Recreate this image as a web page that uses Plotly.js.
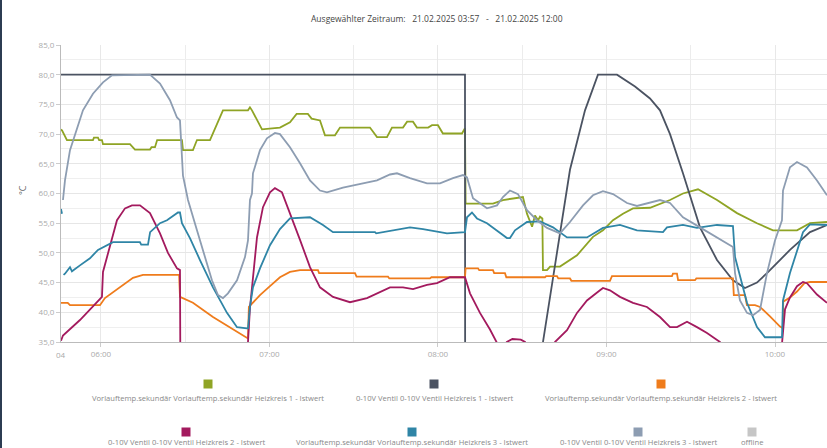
<!DOCTYPE html>
<html>
<head>
<meta charset="utf-8">
<script src="https://cdn.plot.ly/plotly-3.0.1.min.js"></script>
<style>
  html, body { margin: 0; padding: 0; background: #ffffff; overflow: hidden; }
  #chart { width: 827px; height: 448px; }
  #edge { position: absolute; left: 0; top: 0; width: 2px; height: 448px; background: #2c3c52; z-index: 10; }
</style>
</head>
<body>
<div id="edge"></div>
<div id="chart"></div>
<script>
// ---------- DATA ----------
const DAY = '2025-02-21 ';
const xRange = ['05:45:46', '10:18:31'];
const hourTicks = ['06:00', '07:00', '08:00', '09:00', '10:00'];
const hourLabels = ['06:00', '07:00', '08:00', '09:00', '10:00'];
const firstTickLabel = '04';
const yTicks = [35, 40, 45, 50, 55, 60, 65, 70, 75, 80, 85];

const seriesNames = [
  'Vorlauftemp.sekundär Vorlauftemp.sekundär Heizkreis 1 - Istwert',
  '0-10V Ventil 0-10V Ventil Heizkreis 1 - Istwert',
  'Vorlauftemp.sekundär Vorlauftemp.sekundär Heizkreis 2 - Istwert',
  '0-10V Ventil 0-10V Ventil Heizkreis 2 - Istwert',
  'Vorlauftemp.sekundär Vorlauftemp.sekundär Heizkreis 3 - Istwert',
  '0-10V Ventil 0-10V Ventil Heizkreis 3 - Istwert',
  'offline'
];
const seriesColors = ['#8fa425', '#4b5362', '#ef7c1c', '#a31a5e', '#2f85a6', '#8d9db2', '#c6c6c6'];

// Vorlauftemp. Heizkreis 1
const hk1Temp = [
  ['05:45:46',70.8],['05:46:10',70.6],['05:47:53',69.0],['05:57:09',69.0],['05:57:30',69.4],['05:58:56',69.4],
  ['05:59:20',69.0],['06:00:21',69.0],['06:00:43',68.3],['06:10:20',68.3],['06:12:06',67.4],['06:17:27',67.4],
  ['06:18:00',67.8],['06:19:14',67.8],['06:20:00',69.0],['06:28:50',69.0],['06:29:12',67.3],['06:32:45',67.3],
  ['06:34:11',69.0],['06:38:49',69.0],['06:43:26',74.0],['06:52:21',74.0],['06:53:03',74.5],['06:53:46',74.0],
  ['06:57:20',70.8],['07:00:11',70.9],['07:03:44',71.1],['07:07:18',72.0],['07:09:40',73.4],['07:13:40',73.4],
  ['07:15:00',72.6],['07:17:59',72.3],['07:19:46',69.8],['07:23:19',69.8],['07:25:06',71.1],['07:35:47',71.1],
  ['07:38:17',69.5],['07:41:50',69.5],['07:43:37',71.1],['07:47:32',71.1],['07:49:00',72.1],['07:51:06',72.1],
  ['07:52:30',71.1],['07:56:30',71.1],['07:57:52',71.5],['07:59:59',71.5],['08:01:45',70.1],['08:08:33',70.1],
  ['08:09:37',71.0],['08:09:50',58.3],['08:19:35',58.3],['08:23:08',58.9],['08:30:15',59.4],['08:31:41',56.6],
  ['08:33:30',54.4],['08:34:32',56.3],['08:35:40',55.5],['08:36:19',56.1],['08:37:10',55.8],['08:37:23',47.1],
  ['08:38:49',47.1],['08:39:55',47.7],['08:43:26',47.7],['08:49:30',49.6],['08:55:11',52.7],['08:58:45',53.8],
  ['09:02:19',55.5],['09:05:52',56.6],['09:09:26',57.5],['09:15:29',57.6],['09:22:37',58.9],['09:27:14',60.0],
  ['09:32:35',60.7],['09:39:21',58.9],['09:46:28',56.7],['09:53:35',55.0],['09:59:17',53.8],['10:07:50',53.8],
  ['10:12:28',55.0],['10:18:31',55.2]
];

// Ventil Heizkreis 1 (values under 35 lie below the visible range)
const hk1Valve = [
  ['05:45:46',80.0],['08:09:37',80.0],['08:09:40',33.0],['08:37:00',33.0],['08:37:23',35.0],['08:42:20',50.0],
  ['08:47:00',64.0],['08:52:21',74.0],['08:56:58',80.0],['09:03:44',80.0],['09:10:09',78.0],['09:15:29',76.0],
  ['09:19:03',74.0],['09:22:37',70.0],['09:27:14',63.4],['09:33:17',54.3],['09:39:21',48.8],['09:45:02',45.4],
  ['09:49:19',44.1],['09:53:35',45.0],['09:57:09',46.6],['10:05:20',50.5],['10:12:28',53.5],['10:18:31',54.7]
];

// Vorlauftemp. Heizkreis 2
const hk2Temp = [
  ['05:45:46',41.6],['05:48:10',41.6],['05:48:58',41.2],['05:59:39',41.2],['06:01:25',42.4],['06:06:46',44.2],
  ['06:11:24',45.8],['06:14:57',46.3],['06:27:50',46.3],['06:28:08',42.6],['06:32:45',41.6],['06:39:53',39.2],
  ['06:45:56',37.5],['06:51:59',35.8],['06:52:21',35.6],['06:52:40',40.9],['06:56:37',42.9],['07:00:11',44.4],
  ['07:03:44',45.9],['07:07:18',46.8],['07:10:52',47.1],['07:17:16',47.1],['07:17:40',46.6],['07:30:27',46.6],
  ['07:31:00',46.0],['07:42:12',46.0],['07:42:40',45.7],['07:57:09',45.7],['07:57:40',45.9],['08:09:37',45.9],
  ['08:09:50',47.4],['08:14:15',47.4],['08:14:40',47.1],['08:19:35',47.1],['08:20:00',46.6],['08:23:51',46.6],
  ['08:24:20',45.9],['08:38:06',45.9],['08:38:30',46.1],['08:42:22',46.1],['08:42:50',45.7],['08:47:00',45.7],
  ['08:47:30',45.3],['09:01:14',45.3],['09:01:57',46.1],['09:23:19',46.1],['09:23:40',46.5],['09:25:06',46.5],
  ['09:25:30',45.4],['09:31:31',45.4],['09:32:00',45.7],['09:45:02',45.7],['09:45:20',42.9],['09:49:19',42.9],
  ['09:50:00',41.2],['09:52:53',41.2],['09:54:40',40.9],['09:58:13',39.3],['10:01:47',37.6],['10:02:51',37.3],
  ['10:02:55',41.8],['10:05:20',42.5],['10:07:50',43.5],['10:10:30',44.9],['10:12:28',45.1],['10:18:31',45.1]
];

// Ventil Heizkreis 2 (values under 35 lie below the visible range)
const hk2Valve = [
  ['05:45:46',35.2],['05:46:28',36.1],['05:52:31',38.7],['05:59:00',41.9],['06:00:21',42.6],['06:00:43',46.8],
  ['06:03:12',51.3],['06:05:42',55.5],['06:08:33',57.5],['06:11:02',58.0],['06:13:53',58.0],['06:17:27',56.7],
  ['06:21:01',53.3],['06:23:51',50.0],['06:27:04',47.4],['06:28:08',47.1],['06:28:15',33.0],['06:52:10',33.0],
  ['06:52:21',35.0],['06:53:03',40.7],['06:55:33',52.6],['06:57:41',57.7],['07:00:11',60.2],['07:01:57',60.9],
  ['07:04:27',60.2],['07:07:18',56.7],['07:10:52',52.2],['07:14:25',47.6],['07:17:59',44.2],['07:22:37',42.6],
  ['07:28:40',41.7],['07:34:43',42.4],['07:39:21',43.4],['07:42:55',44.2],['07:47:32',44.2],['07:51:06',43.9],
  ['07:56:05',44.6],['07:59:38',44.9],['08:04:16',45.9],['08:09:37',45.9],['08:11:24',43.2],['08:14:57',39.9],
  ['08:18:31',37.1],['08:21:01',35.0],['08:22:30',33.5],['08:24:30',35.0],['08:26:30',35.5],['08:29:30',35.4],
  ['08:31:00',35.0],['08:33:00',33.5],['08:41:20',33.5],['08:41:40',35.0],['08:45:56',37.0],['08:49:30',39.9],
  ['08:53:03',42.0],['08:57:41',43.7],['08:58:45',44.1],['09:01:14',43.7],['09:04:48',42.6],['09:09:26',41.6],
  ['09:14:25',40.9],['09:19:03',39.2],['09:22:37',37.5],['09:25:06',37.5],['09:28:40',38.4],['09:32:13',37.5],
  ['09:35:47',36.5],['09:40:25',35.0],['09:41:00',33.0],['10:02:10',33.0],['10:02:29',35.0],['10:03:34',40.5],
  ['10:05:20',42.5],['10:07:50',44.4],['10:09:58',45.1],['10:11:23',44.9],['10:14:57',43.0],['10:18:31',41.6]
];

// Vorlauftemp. Heizkreis 3 (null = gap in the record)
const hk3Temp = [
  ['05:45:46',57.4],['05:46:07',56.6],['05:46:20',null],['05:46:40',46.3],['05:47:11',46.5],['05:48:58',47.6],
  ['05:49:40',46.9],['05:52:31',47.9],['05:56:05',49.1],['05:58:56',50.5],['06:02:08',51.3],['06:04:16',51.8],
  ['06:13:53',51.8],['06:14:20',51.4],['06:16:44',51.4],['06:17:30',53.5],['06:21:01',55.0],['06:23:30',55.5],
  ['06:27:25',56.8],['06:28:08',56.8],['06:28:50',55.0],['06:31:41',52.5],['06:35:15',48.8],['06:39:53',44.2],
  ['06:44:52',39.9],['06:48:26',37.5],['06:51:59',37.3],['06:52:21',37.3],['06:53:03',40.9],['06:54:07',44.2],
  ['06:56:37',47.4],['07:00:11',51.3],['07:03:44',54.0],['07:07:18',55.8],['07:14:25',56.0],['07:19:03',54.7],
  ['07:22:37',53.5],['07:37:34',53.5],['07:38:00',53.3],['07:45:46',54.0],['07:50:02',54.3],['07:54:40',54.0],
  ['08:03:12',53.3],['08:09:37',53.5],['08:10:20',56.0],['08:12:06',56.8],['08:13:53',55.8],['08:17:27',55.0],
  ['08:21:01',53.8],['08:24:34',52.5],['08:25:38',52.5],['08:27:25',53.8],['08:31:41',55.2],['08:36:19',55.3],
  ['08:40:57',54.3],['08:45:56',52.6],['08:53:03',52.6],['08:58:45',54.2],['09:04:48',54.7],['09:10:51',53.8],
  ['09:20:07',53.5],['09:21:32',54.3],['09:27:14',54.7],['09:32:13',54.2],['09:39:21',54.7],['09:45:02',54.5],
  ['09:45:46',49.3],['09:47:32',45.9],['09:50:02',41.6],['09:53:35',37.5],['09:56:26',35.8],['10:02:29',35.8],
  ['10:02:51',42.0],['10:05:20',46.6],['10:07:50',50.5],['10:09:58',53.5],['10:12:28',54.8],['10:18:31',54.7]
];

// Ventil Heizkreis 3
const hk3Valve = [
  ['05:46:28',58.9],['05:47:11',62.2],['05:48:58',67.3],['05:51:27',71.1],['05:53:35',74.0],['05:57:09',76.8],
  ['06:00:43',78.7],['06:03:55',79.9],['06:17:27',80.0],['06:21:01',78.5],['06:24:34',75.7],['06:27:04',72.8],
  ['06:28:08',72.3],['06:29:12',63.0],['06:30:59',58.9],['06:34:11',53.8],['06:37:45',48.3],['06:39:31',45.4],
  ['06:41:40',42.9],['06:43:26',42.4],['06:45:13',43.2],['06:48:26',45.4],['06:51:17',49.3],['06:52:21',52.1],
  ['06:53:03',58.9],['06:53:46',60.0],['06:54:07',63.4],['06:56:37',67.3],['06:59:06',69.3],['07:01:57',70.2],
  ['07:03:44',70.0],['07:07:18',67.8],['07:10:52',65.1],['07:14:25',62.2],['07:17:59',60.5],['07:20:28',60.2],
  ['07:26:10',61.0],['07:33:17',61.7],['07:38:17',62.2],['07:42:55',63.2],['07:45:24',63.4],['07:50:02',62.6],
  ['07:56:05',61.7],['08:00:43',61.7],['08:05:20',62.6],['08:08:54',63.1],['08:10:20',62.7],['08:12:28',59.2],
  ['08:17:27',57.5],['08:21:01',58.0],['08:23:08',59.4],['08:25:38',60.5],['08:28:29',59.9],['08:31:41',57.2],
  ['08:35:15',55.5],['08:38:49',54.2],['08:43:26',53.3],['08:47:00',55.2],['08:51:38',58.0],['08:55:11',59.7],
  ['08:58:45',60.4],['09:02:19',59.9],['09:07:18',58.4],['09:10:51',57.9],['09:15:29',58.5],['09:19:03',58.9],
  ['09:22:37',58.4],['09:27:14',56.0],['09:33:17',54.3],['09:39:21',52.6],['09:45:02',51.0],['09:45:46',46.6],
  ['09:47:32',42.0],['09:50:02',39.9],['09:52:10',39.5],['09:54:40',40.4],['09:57:09',46.6],['10:00:00',52.1],
  ['10:02:29',55.5],['10:02:51',60.5],['10:05:20',64.4],['10:07:50',65.3],['10:11:23',64.4],['10:14:57',62.2],
  ['10:18:31',59.7]
];

const titleText = 'Ausgewählter Zeitraum:   21.02.2025 03:57   -   21.02.2025 12:00';
const yAxisTitle = '°C';

// ---------- BUILD ----------
const seriesData = [hk1Temp, hk1Valve, hk2Temp, hk2Valve, hk3Temp, hk3Valve];
const traces = seriesData.map((s, i) => ({
  type: 'scatter', mode: 'lines', name: seriesNames[i],
  x: s.map(p => DAY + p[0]), y: s.map(p => p[1]),
  line: { color: seriesColors[i], width: 1.8 },
  connectgaps: false, showlegend: false, hoverinfo: 'skip'
}));

const L = 61, R = 827, T = 45, B = 342;
const px = x => (x - L) / (R - L);
const py = y => (B - y) / (B - T);

const annotations = [];
const shapes = [];
annotations.push({ xref: 'paper', yref: 'paper', x: px(437), y: py(18), text: titleText, showarrow: false,
  font: { family: 'Open Sans, sans-serif', size: 8.5, color: '#444' }, xanchor: 'center', yanchor: 'middle' });
annotations.push({ xref: 'paper', yref: 'paper', x: px(22), y: py(190), text: yAxisTitle, showarrow: false, textangle: -90,
  font: { family: 'Open Sans, sans-serif', size: 9, color: '#666' }, xanchor: 'center', yanchor: 'middle' });
annotations.push({ xref: 'paper', yref: 'paper', x: px(61), y: py(354), text: firstTickLabel, showarrow: false,
  font: { family: 'Open Sans, sans-serif', size: 8, color: '#aaa' }, xanchor: 'center', yanchor: 'middle' });

// custom legend: coloured square above centred label
const legendItems = [
  { i: 0, cx: 208, row: 0 }, { i: 1, cx: 434, row: 0 }, { i: 2, cx: 661, row: 0 },
  { i: 3, cx: 186, row: 1 }, { i: 4, cx: 412, row: 1 }, { i: 5, cx: 638, row: 1 }, { i: 6, cx: 752, row: 1 }
];
const rowSquareY = [384, 432], rowTextY = [398, 442];
legendItems.forEach(it => {
  const sy = rowSquareY[it.row];
  shapes.push({ type: 'rect', xref: 'paper', yref: 'paper', x0: px(it.cx - 4.5), x1: px(it.cx + 4.5),
    y0: py(sy + 4.5), y1: py(sy - 4.5), fillcolor: seriesColors[it.i], line: { width: 0 } });
  annotations.push({ xref: 'paper', yref: 'paper', x: px(it.cx), y: py(rowTextY[it.row]), text: seriesNames[it.i],
    showarrow: false, xanchor: 'center', yanchor: 'middle',
    font: { family: 'Open Sans, sans-serif', size: 7.6, color: '#888' } });
});

const layout = {
  width: 827, height: 448,
  margin: { l: L, r: 827 - R, t: T, b: 448 - B, pad: 0 },
  paper_bgcolor: '#ffffff', plot_bgcolor: '#ffffff',
  separators: ',.',
  showlegend: false,
  hovermode: false,
  font: { family: 'Open Sans, sans-serif', color: '#999' },
  xaxis: {
    type: 'date', range: xRange.map(t => DAY + t), fixedrange: true,
    tickmode: 'array', tickvals: hourTicks.map(t => DAY + t), ticktext: hourLabels,
    tickfont: { size: 8, color: '#aaa' },
    ticks: 'outside', ticklen: 4, tickcolor: '#ccc',
    showgrid: true, gridcolor: '#e8e8e8', gridwidth: 1,
    minor: { tickmode: 'array', tickvals: ['06:30', '07:30', '08:30', '09:30'].map(t => DAY + t),
      showgrid: true, gridcolor: '#ececec', ticks: '' },
    showline: true, linecolor: '#bbb', linewidth: 1, zeroline: false
  },
  yaxis: {
    range: [35, 85], fixedrange: true,
    tickmode: 'array', tickvals: yTicks, tickformat: '.1f',
    tickfont: { size: 8, color: '#aaa' },
    ticks: 'outside', ticklen: 4, tickcolor: '#ccc',
    showgrid: true, gridcolor: '#e6e6e6', gridwidth: 1,
    minor: { dtick: 2.5, tick0: 35, showgrid: true, gridcolor: '#efefef', ticks: '' },
    showline: true, linecolor: '#bbb', linewidth: 1, zeroline: false
  },
  annotations: annotations,
  shapes: shapes
};

Plotly.newPlot('chart', traces, layout, { displayModeBar: false, staticPlot: true });
</script>
</body>
</html>
